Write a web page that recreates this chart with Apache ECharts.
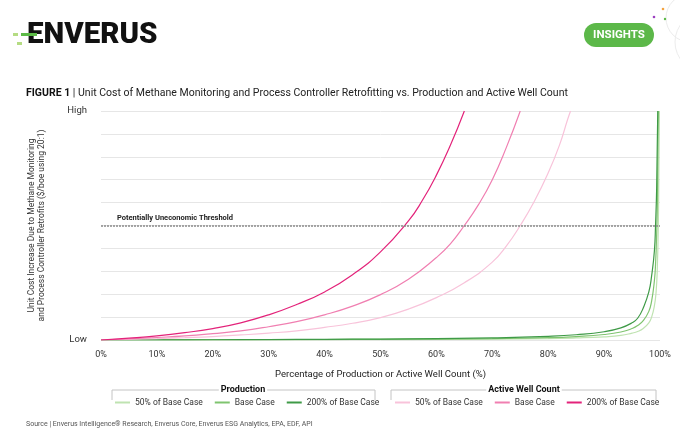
<!DOCTYPE html>
<html><head><meta charset="utf-8">
<script src="https://cdn.jsdelivr.net/npm/echarts@6/dist/echarts.min.js"></script>
<style>html,body{margin:0;padding:0;background:#fff}#c{width:680px;height:444px}</style>
</head><body><div id="c"></div>
<script>
// ---- data ----
const xTickValues = [0,10,20,30,40,50,60,70,80,90,100];
const yTickLabels = {0:'Low', 100:'High'};
const thresholdValue = 50;

const prod50X   = [0,10,20,30,40,50,60,70,80,85,90,93,95,96,97,98,98.5,99,99.3,99.5,99.7,99.8,99.9];
const prod50Y   = [0,0.02,0.04,0.06,0.1,0.15,0.25,0.35,0.6,0.9,1.4,2,3,3.7,5,7.5,10,15,21,30,50,75,100];
const prodBaseX = [0,10,20,30,40,50,60,70,80,85,90,93,95,96,97,98,98.5,99,99.2,99.4,99.55,99.7];
const prodBaseY = [0,0.03,0.06,0.1,0.2,0.3,0.4,0.6,1.0,1.5,2.4,3.5,5,6.3,8.5,12.5,17,26,33,46,62,100];
const prod200X  = [0,10,20,30,40,50,60,70,80,85,90,93,95,96,97,98,98.5,99,99.2,99.4,99.6];
const prod200Y  = [0,0.05,0.1,0.2,0.3,0.4,0.6,0.9,1.6,2.3,3.6,5.3,7.5,9.5,14,21,28,39,50,66,100];

const act50X    = [0,5,10,15,20,25,30,35,40,45,50,55,60,65,70,72.5,75,77.5,80,82,83.5,84];
const act50Y    = [0,0.3,0.6,1.0,1.5,2.2,3.0,4.0,5.5,7.3,9.8,13.5,18.5,25,34,41,50,60.5,73,85,96.5,100];
const actBaseX  = [0,5,10,15,20,25,30,35,40,45,50,55,60,62.5,65,67.5,70,72.5,75];
const actBaseY  = [0,0.5,1.1,1.8,2.8,4,5.8,8,11,14.8,19.8,26.5,36,42,50,59,70,84,100];
const act200X   = [0,5,10,15,20,25,30,35,40,45,50,55,57.5,60,62.5,65];
const act200Y   = [0,0.8,1.8,3.2,5,7.5,11,15.5,21,28.5,38.5,52,61,72,85,100];

const caseNames = ['50% of Base Case','Base Case','200% of Base Case'];
const groupNames = ['Production','Active Well Count'];

// ---- build ----
const zip = (xs, ys) => xs.map((x,i)=>[x, ys[i]]);
const colors = {
  'Production|50% of Base Case':'#bfe3b1',
  'Production|Base Case':'#7fc46f',
  'Production|200% of Base Case':'#3f9a47',
  'Active Well Count|50% of Base Case':'#f8c3da',
  'Active Well Count|Base Case':'#f07fb1',
  'Active Well Count|200% of Base Case':'#e3237a'
};
const seriesData = [
  ['Production|50% of Base Case', zip(prod50X, prod50Y)],
  ['Production|Base Case', zip(prodBaseX, prodBaseY)],
  ['Production|200% of Base Case', zip(prod200X, prod200Y)],
  ['Active Well Count|50% of Base Case', zip(act50X, act50Y)],
  ['Active Well Count|Base Case', zip(actBaseX, actBaseY)],
  ['Active Well Count|200% of Base Case', zip(act200X, act200Y)]
];
const FONT = 'Roboto, "Noto Sans", sans-serif';

const series = seriesData.map(([name, data], i) => ({
  name, type:'line', data, symbol:'none', smooth:0.5,
  lineStyle:{width:1.2, color:colors[name]}, itemStyle:{color:colors[name]},
  z: 3, clip:true,
  markLine: i === 0 ? {
    silent:true, symbol:'none',
    lineStyle:{type:[2,1], color:'#8a8a8a', width:1.5},
    label:{show:true, position:'insideStartTop', formatter:'Potentially Uneconomic Threshold',
      fontFamily:FONT, fontSize:7.5, fontWeight:'bold', color:'#222', distance:[16,3]},
    data:[{yAxis:thresholdValue}]
  } : undefined
}));

const chart = echarts.init(document.getElementById('c'), null, {renderer:'canvas'});
const legendBase = {
  icon:'rect', itemWidth:15, itemHeight:2, itemGap:12, top:398, padding:0,
  textStyle:{fontFamily:FONT, fontSize:8.5, color:'#333'},
  formatter: n => n.split('|')[1]
};
chart.setOption({
  animation:false,
  backgroundColor:'#fff',
  grid:{left:101, right:20, top:111, bottom:104},
  xAxis:{
    type:'value', min:0, max:100, interval:10,
    axisLine:{show:false}, axisTick:{show:false}, splitLine:{show:false},
    axisLabel:{formatter:'{value}%', fontFamily:FONT, fontSize:9, color:'#333', margin:10},
    name:'Percentage of Production or Active Well Count (%)', nameLocation:'middle', nameGap:30,
    nameTextStyle:{fontFamily:FONT, fontSize:9.5, color:'#222'}
  },
  yAxis:{
    type:'value', min:0, max:100, interval:10,
    axisLine:{show:false}, axisTick:{show:false},
    splitLine:{lineStyle:{color:'#e6e6e6', width:1}},
    axisLabel:{formatter: v => yTickLabels[v] || '', fontFamily:FONT, fontSize:9.5, color:'#333', margin:14},
    name:'Unit Cost Increase Due to Methane Monitoring\nand Process Controller Retrofits ($/boe using 20:1)',
    nameLocation:'middle', nameGap:54, nameRotate:90,
    nameTextStyle:{fontFamily:FONT, fontSize:8.5, lineHeight:10, color:'#333'}
  },
  legend:[
    Object.assign({}, legendBase, {left:115, data:caseNames.map(c=>groupNames[0]+'|'+c)}),
    Object.assign({}, legendBase, {left:395, data:caseNames.map(c=>groupNames[1]+'|'+c)})
  ],
  series,
  graphic:[
    // logo
    {type:'rect', shape:{x:13,y:33,width:5,height:3}, style:{fill:'#b5dc83'}},
    {type:'rect', shape:{x:17,y:42,width:5,height:3}, style:{fill:'#b5dc83'}},
    {type:'rect', shape:{x:21,y:33,width:16,height:3}, style:{fill:'#5cba47'}, z:110},
    {type:'text', x:27, y:21, style:{text:'ENVERUS', fontFamily:FONT, fontSize:29.5, fontWeight:900, fill:'#111'}},
    // decorative circles
    {type:'circle', shape:{cx:690,cy:18,r:24}, style:{fill:'none', stroke:'#ececec', lineWidth:1}},
    {type:'circle', shape:{cx:705,cy:42,r:30}, style:{fill:'none', stroke:'#ececec', lineWidth:1}},
    {type:'circle', shape:{cx:663,cy:9,r:1.3}, style:{fill:'#f4a340'}},
    {type:'circle', shape:{cx:654,cy:17,r:1.3}, style:{fill:'#9c3fc0'}},
    {type:'circle', shape:{cx:665,cy:19,r:1.2}, style:{fill:'#5cba47'}},
    // INSIGHTS button
    {type:'rect', shape:{x:584,y:23,width:70,height:24,r:12}, style:{fill:'#5cb849'}},
    {type:'text', x:619, y:35, style:{text:'INSIGHTS', fontFamily:FONT, fontSize:11.5, fontWeight:'bold', fill:'#fff', align:'center', verticalAlign:'middle'}},
    // title
    {type:'text', x:26, y:93, scaleX:0.914, style:{
      text:'{b|FIGURE 1} | Unit Cost of Methane Monitoring and Process Controller Retrofitting vs. Production and Active Well Count',
      fontFamily:FONT, fontSize:11.5, fill:'#222', verticalAlign:'middle',
      rich:{b:{fontFamily:FONT, fontSize:11.5, fontWeight:'bold', fill:'#111'}}}},
    // legend brackets
    {type:'polyline', shape:{points:[[112,400],[112,390],[375,390],[375,400]]}, style:{fill:'none', stroke:'#c4c4c4', lineWidth:1}},
    {type:'text', x:243, y:390, z:120, style:{text:groupNames[0], fontFamily:FONT, fontSize:9, fontWeight:'bold', fill:'#111', align:'center', verticalAlign:'middle', backgroundColor:'#fff', padding:[1,2]}},
    {type:'polyline', shape:{points:[[391,400],[391,390],[656,390],[656,400]]}, style:{fill:'none', stroke:'#c4c4c4', lineWidth:1}},
    {type:'text', x:524, y:390, z:120, style:{text:groupNames[1], fontFamily:FONT, fontSize:9, fontWeight:'bold', fill:'#111', align:'center', verticalAlign:'middle', backgroundColor:'#fff', padding:[1,2]}},
    // source
    {type:'text', x:26, y:424, style:{text:'Source | Enverus Intelligence® Research, Enverus Core, Enverus ESG Analytics, EPA, EDF, API', fontFamily:FONT, fontSize:7, fill:'#555', verticalAlign:'middle'}}
  ]
});
</script>
</body></html>
